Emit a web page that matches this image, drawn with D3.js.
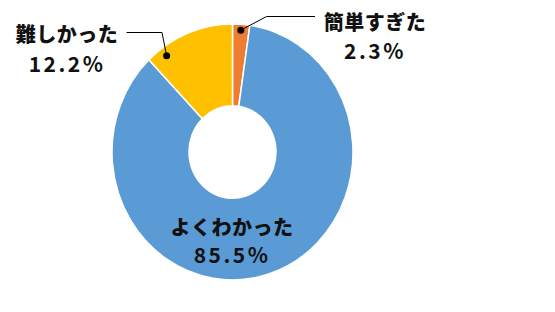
<!DOCTYPE html>
<html>
<head>
<meta charset="utf-8">
<script src="https://cdn.jsdelivr.net/npm/d3@7.9.0/dist/d3.min.js"></script>
<style>
  html, body { margin: 0; padding: 0; background: #fff; }
  svg { display: block; }
  .lbl { font-family: "Noto Sans CJK JP", "Noto Sans", sans-serif; fill: #111; }
</style>
</head>
<body>
<div id="chart"></div>
<script>
const categories = ['簡単すぎた', 'よくわかった', '難しかった'];
const values = [2.3, 85.5, 12.2];
const valueLabels = ['2.3%', '85.5%', '12.2%'];
const colors = ['#ED7D31', '#5B9BD5', '#FFC000'];

const width = 555;
const height = 312;
const cx = 232.5;
const cy = 152;
const outerR = 120.5;
const innerR = 43.5;
const yStretch = 128 / 120.5;

const svg = d3.select('#chart')
  .append('svg')
  .attr('width', width)
  .attr('height', height);

const pie = d3.pie().sort(null).value(d => d);
const arcs = pie(values);
const arc = d3.arc().innerRadius(innerR).outerRadius(outerR);

const donut = svg.append('g')
  .attr('transform', `translate(${cx},${cy}) scale(1,${yStretch})`);

donut.selectAll('path')
  .data(arcs)
  .join('path')
  .attr('d', arc)
  .attr('fill', (d, i) => colors[i])
  .attr('stroke', '#fff')
  .attr('stroke-width', 1.5);

// point on the ring, in page coords
function ringPoint(angle, r) {
  const [x, y] = d3.pointRadial(angle, r);
  return [cx + x, cy + y * yStretch];
}

// leader lines with dots for the two small slices
const leaders = [
  { i: 0, t: 0.5, r: 115, elbow: [266.5, 16.5], end: [315, 16.5] },
  { i: 2, t: 0.18, r: 112, elbow: [162, 32.5], end: [126.5, 32.5] }
];

leaders.forEach(l => {
  const a = arcs[l.i];
  const ang = a.startAngle + (a.endAngle - a.startAngle) * l.t;
  const p = ringPoint(ang, l.r);
  svg.append('path')
    .attr('d', d3.line()([p, l.elbow, l.end]))
    .attr('fill', 'none')
    .attr('stroke', '#000')
    .attr('stroke-width', 1);
  svg.append('circle')
    .attr('cx', p[0])
    .attr('cy', p[1])
    .attr('r', 3.5)
    .attr('fill', '#000');
});

// labels
const labelPos = [
  { x: 375, y1: 30, y2: 59 },
  { x: 232, y1: 235, y2: 263 },
  { x: 67, y1: 42, y2: 72 }
];

categories.forEach((c, i) => {
  const p = labelPos[i];
  const g = svg.append('g').attr('class', 'lbl');
  g.append('text')
    .attr('x', p.x)
    .attr('y', p.y1)
    .attr('text-anchor', 'middle')
    .attr('font-size', 20)
    .attr('font-weight', 900)
    .attr('letter-spacing', 0.5)
    .text(c);
  g.append('text')
    .attr('x', p.x)
    .attr('y', p.y2)
    .attr('text-anchor', 'middle')
    .attr('font-size', 21)
    .attr('font-weight', 700)
    .attr('letter-spacing', 2.5)
    .text(valueLabels[i]);
});
</script>
</body>
</html>
